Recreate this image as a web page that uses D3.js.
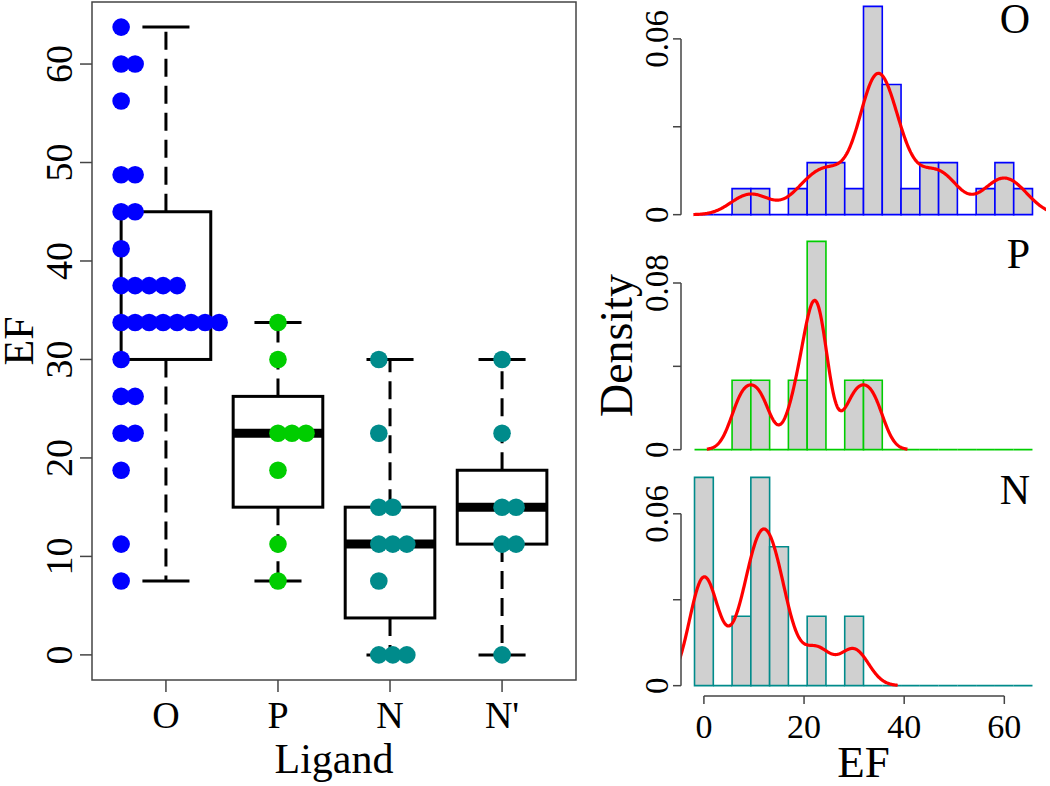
<!DOCTYPE html>
<html>
<head>
<meta charset="utf-8">
<script src="https://cdn.jsdelivr.net/npm/d3@7"></script>
<style>
  html, body { margin: 0; padding: 0; background: #fff; }
  svg { display: block; }
  text { font-family: "Liberation Serif", "DejaVu Serif", serif; fill: #000; }
</style>
</head>
<body>
<svg id="chart" width="1050" height="786"></svg>
<script>
// ---------------- DATA ----------------
const categories = ["O", "P", "N", "N'"];
const valuesO = [63.75, 60, 60, 56.25, 48.75, 48.75, 45, 45, 41.25,
  37.5, 37.5, 37.5, 37.5, 37.5,
  33.75, 33.75, 33.75, 33.75, 33.75, 33.75, 33.75, 33.75,
  30, 26.25, 26.25, 22.5, 22.5, 18.75, 11.25, 7.5];
const valuesP = [33.75, 30, 22.5, 22.5, 22.5, 18.75, 11.25, 7.5];
const valuesN = [30, 22.5, 15, 15, 11.25, 11.25, 11.25, 7.5, 0, 0, 0];
const valuesN2 = [30, 22.5, 15, 15, 11.25, 11.25, 0];
const groupValues = [valuesO, valuesP, valuesN, valuesN2];
const dotColors = ["#0000ff", "#00cd00", "#008b8b", "#008b8b"];
const yTicks = [0, 10, 20, 30, 40, 50, 60];

// histogram panels (O, P, N)
const histLabels = ["O", "P", "N"];
const histValues = [valuesO, valuesP, valuesN];
const histColors = ["#0000ff", "#00cd00", "#008b8b"];
const histBandwidths = [3.2, 2.3, 2.9];
const histYTicks = [[0, 0.03, 0.06], [0, 0.04, 0.08], [0, 0.03, 0.06]];
const histYTickLabels = [["0", "", "0.06"], ["0", "", "0.08"], ["0", "", "0.06"]];
const histXTicks = [0, 20, 40, 60];
const binWidth = 3.75;
const binStart = -1.875, binEnd = 65.625;

// ---------------- LAYOUT ----------------
const svg = d3.select("#chart");
const L = { left: 92, right: 576, top: 2, bottom: 680 };
const stackStart = [-0.4, 0, -0.1, 0];   // start of dot stack, in category units
const dotStep = 14, dotR = 8.8;

const x = d3.scaleLinear().domain([0.5 - 0.16, 4.5 + 0.16]).range([L.left, L.right]);
const y = d3.scaleLinear().domain([-2.55, 66.3]).range([L.bottom, L.top]);
const unit = x(2) - x(1);

function fivenum(arr) {
  const s = arr.slice().sort((a, b) => a - b);
  const n = s.length;
  const n4 = Math.floor((n + 3) / 2) / 2;
  const d = [1, n4, (n + 1) / 2, n + 1 - n4, n];
  return d.map(v => 0.5 * (s[Math.floor(v) - 1] + s[Math.ceil(v) - 1]));
}

const gL = svg.append("g");

// boxplots
groupValues.forEach((vals, i) => {
  const cx = x(i + 1);
  const [mn, q1, med, q3, mx] = fivenum(vals);
  const bw = 0.4 * unit, sw = 0.21 * unit;
  const g = gL.append("g").attr("stroke", "#000").attr("fill", "none");
  // whiskers
  g.append("line").attr("x1", cx).attr("x2", cx).attr("y1", y(q3)).attr("y2", y(mx))
    .attr("stroke-width", 3).attr("stroke-dasharray", "18,9");
  g.append("line").attr("x1", cx).attr("x2", cx).attr("y1", y(q1)).attr("y2", y(mn))
    .attr("stroke-width", 3).attr("stroke-dasharray", "18,9");
  // staples
  [mn, mx].forEach(v => g.append("line").attr("x1", cx - sw).attr("x2", cx + sw)
    .attr("y1", y(v)).attr("y2", y(v)).attr("stroke-width", 3));
  // box
  g.append("rect").attr("x", cx - bw).attr("width", 2 * bw)
    .attr("y", y(q3)).attr("height", y(q1) - y(q3)).attr("fill", "#fff").attr("stroke-width", 3);
  // median
  g.append("line").attr("x1", cx - bw).attr("x2", cx + bw)
    .attr("y1", y(med)).attr("y2", y(med)).attr("stroke-width", 9);
});

// stacked dots
groupValues.forEach((vals, i) => {
  const counts = new Map();
  const pts = [];
  vals.forEach(v => {
    const k = counts.get(v) || 0;
    counts.set(v, k + 1);
    pts.push({ v, k });
  });
  gL.append("g").selectAll("circle").data(pts).join("circle")
    .attr("cx", d => x(i + 1 + stackStart[i]) + d.k * dotStep)
    .attr("cy", d => y(d.v))
    .attr("r", dotR)
    .attr("fill", dotColors[i]);
});

// frame
gL.append("rect").attr("x", L.left).attr("y", L.top)
  .attr("width", L.right - L.left).attr("height", L.bottom - L.top)
  .attr("fill", "none").attr("stroke", "#444").attr("stroke-width", 1.5);

// y axis
const yAxis = gL.append("g");
yTicks.forEach(t => {
  yAxis.append("line").attr("x1", L.left - 12).attr("x2", L.left)
    .attr("y1", y(t)).attr("y2", y(t)).attr("stroke", "#444").attr("stroke-width", 1.5);
  yAxis.append("text").attr("transform", `translate(72,${y(t)}) rotate(-90)`)
    .attr("text-anchor", "middle").attr("font-size", 38).text(t);
});
// x axis
categories.forEach((c, i) => {
  gL.append("line").attr("x1", x(i + 1)).attr("x2", x(i + 1))
    .attr("y1", L.bottom).attr("y2", L.bottom + 12).attr("stroke", "#444").attr("stroke-width", 1.5);
  gL.append("text").attr("x", x(i + 1)).attr("y", 728).attr("text-anchor", "middle")
    .attr("font-size", 38).text(c);
});
gL.append("text").attr("x", (L.left + L.right) / 2).attr("y", 773).attr("text-anchor", "middle")
  .attr("font-size", 42).text("Ligand");
gL.append("text").attr("transform", `translate(33,${(L.top + L.bottom) / 2}) rotate(-90)`)
  .attr("text-anchor", "middle").attr("font-size", 42).text("EF");

// ---------------- HISTOGRAMS ----------------
const H = { left: 681, right: 1046 };
const panelTops = [-2, 233, 469];
const panelH = 225;
const hx = d3.scaleLinear().domain([binStart - 0.04 * (binEnd - binStart), binEnd + 0.04 * (binEnd - binStart)])
  .range([H.left, H.right]);
const breaks = d3.range(binStart, binEnd + 1e-9, binWidth);

function kde(vals, bw) {
  const lo = d3.min(vals) - 3 * bw, hi = d3.max(vals) + 3 * bw;
  const n = 512, out = [];
  for (let j = 0; j < n; j++) {
    const xv = lo + (hi - lo) * j / (n - 1);
    let s = 0;
    vals.forEach(v => { const z = (xv - v) / bw; s += Math.exp(-0.5 * z * z); });
    out.push([xv, s / (vals.length * bw * Math.sqrt(2 * Math.PI))]);
  }
  return out;
}

histValues.forEach((vals, p) => {
  const top = panelTops[p], bot = top + panelH;
  const bins = d3.bin().domain([binStart, binEnd]).thresholds(breaks.slice(1, -1))(vals);
  const dens = bins.map(b => ({ x0: b.x0, x1: b.x1, d: b.length / (vals.length * binWidth) }));
  const ymax = d3.max(dens, d => d.d);
  const hy = d3.scaleLinear().domain([-0.04 * ymax, 1.04 * ymax]).range([bot, top]);
  const g = svg.append("g");
  const clipId = "clip" + p;
  svg.append("clipPath").attr("id", clipId).append("rect")
    .attr("x", H.left).attr("y", top).attr("width", H.right - H.left).attr("height", panelH);

  g.append("g").selectAll("path").data(dens).join("path")
    .attr("d", d => `M${hx(d.x0)},${hy(0)}V${hy(d.d)}H${hx(d.x1)}V${hy(0)}Z`)
    .attr("fill", "#d0d0d0").attr("stroke", histColors[p]).attr("stroke-width", 1.6);

  const line = d3.line().x(d => hx(d[0])).y(d => hy(d[1]));
  g.append("path").datum(kde(vals, histBandwidths[p])).attr("d", line)
    .attr("fill", "none").attr("stroke", "#ff0000").attr("stroke-width", 3.2)
    .attr("clip-path", `url(#${clipId})`);

  // y axis
  const ticks = histYTicks[p];
  g.append("line").attr("x1", H.left).attr("x2", H.left)
    .attr("y1", hy(ticks[0])).attr("y2", hy(ticks[ticks.length - 1]))
    .attr("stroke", "#444").attr("stroke-width", 1.5);
  ticks.forEach((t, k) => {
    g.append("line").attr("x1", H.left - 8).attr("x2", H.left)
      .attr("y1", hy(t)).attr("y2", hy(t)).attr("stroke", "#444").attr("stroke-width", 1.5);
    g.append("text").attr("transform", `translate(668,${hy(t)}) rotate(-90)`)
      .attr("text-anchor", "middle").attr("font-size", 33).text(histYTickLabels[p][k]);
  });
  g.append("text").attr("x", 1030).attr("y", top + 35).attr("text-anchor", "end")
    .attr("font-size", 42).text(histLabels[p]);

  if (p === 1) {
    g.append("text").attr("transform", `translate(632,${(top + bot) / 2}) rotate(-90)`)
      .attr("text-anchor", "middle").attr("font-size", 46).text("Density");
  }
  if (p === 2) {
    const ay = bot + 2;
    g.append("line").attr("x1", hx(histXTicks[0])).attr("x2", hx(histXTicks[histXTicks.length - 1]))
      .attr("y1", ay).attr("y2", ay).attr("stroke", "#444").attr("stroke-width", 1.5);
    histXTicks.forEach(t => {
      g.append("line").attr("x1", hx(t)).attr("x2", hx(t)).attr("y1", ay).attr("y2", ay + 8)
        .attr("stroke", "#444").attr("stroke-width", 1.5);
      g.append("text").attr("x", hx(t)).attr("y", 738).attr("text-anchor", "middle")
        .attr("font-size", 34).text(t);
    });
    g.append("text").attr("x", (H.left + H.right) / 2).attr("y", 777).attr("text-anchor", "middle")
      .attr("font-size", 45).text("EF");
  }
});
</script>
</body>
</html>
